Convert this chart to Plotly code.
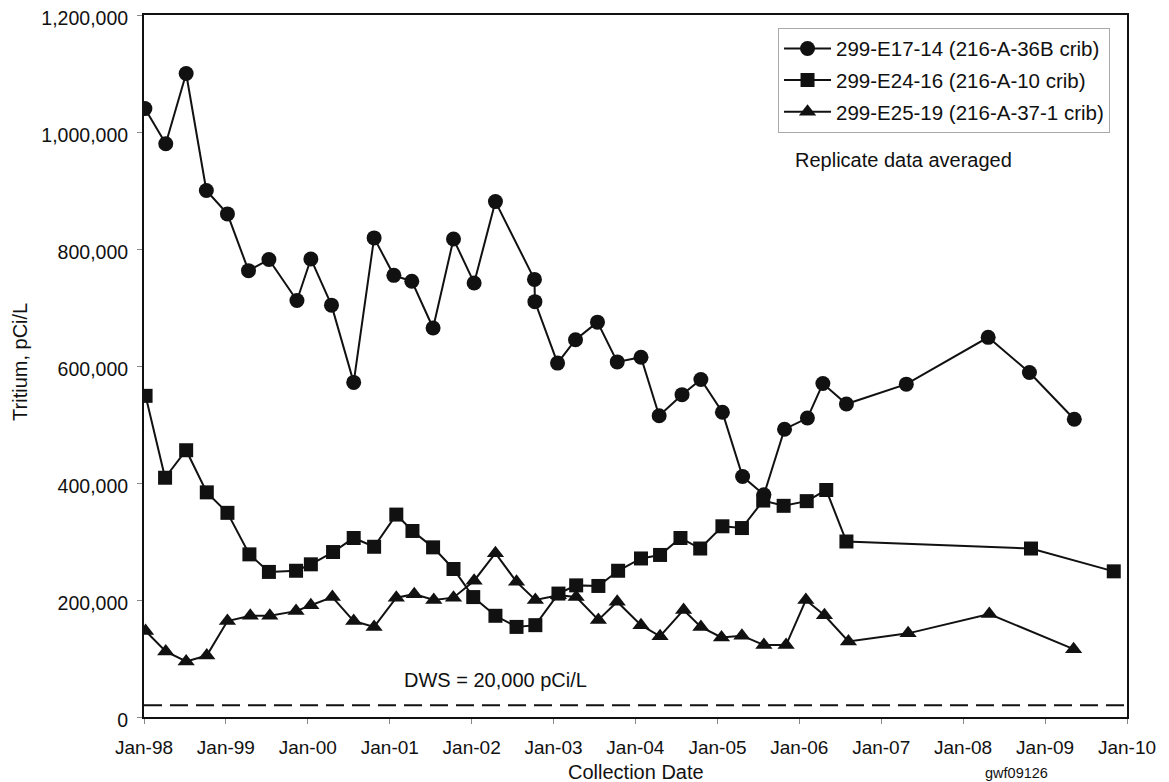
"""
Tritium in three 200-East wells, 1998-2009
==========================================

Three crib monitoring wells on one linear axis, with the drinking water
standard (DWS) drawn as a dashed reference line near the floor.
"""

import plotly.graph_objects as go

FONT = "Arial, Liberation Sans, sans-serif"
INK = "#111111"

# ── 299-E17-14 (216-A-36B crib)
E17_DATES = [
    "1998-01-05", "1998-04-08", "1998-07-08", "1998-10-06", "1999-01-08",
    "1999-04-12", "1999-07-12", "1999-11-14", "2000-01-15", "2000-04-16",
    "2000-07-24", "2000-10-23", "2001-01-19", "2001-04-09", "2001-07-13",
    "2001-10-12", "2002-01-12", "2002-04-17", "2002-10-08", "2002-10-10",
    "2003-01-19", "2003-04-09", "2003-07-16", "2003-10-12", "2004-01-26",
    "2004-04-16", "2004-07-27", "2004-10-19", "2005-01-23", "2005-04-23",
    "2005-07-27", "2005-10-27", "2006-02-06", "2006-04-16", "2006-07-30",
    "2007-04-23", "2008-04-22", "2008-10-23", "2009-05-11",
]
E17_TRITIUM = [
    1040000, 980000, 1100000, 900000, 860000,
    763000, 782000, 712000, 783000, 704000,
    572000, 819000, 755000, 745000, 665000,
    817000, 742000, 881000, 748000, 710000,
    605000, 645000, 675000, 607000, 615000,
    515000, 551000, 577000, 521000, 411000,
    380000, 492000, 511000, 570000, 535000,
    569000, 649000, 589000, 509000,
]

# ── 299-E24-16 (216-A-10 crib)
E24_DATES = [
    "1998-01-08", "1998-04-05", "1998-07-08", "1998-10-08", "1999-01-08",
    "1999-04-16", "1999-07-12", "1999-11-10", "2000-01-15", "2000-04-23",
    "2000-07-24", "2000-10-23", "2001-01-30", "2001-04-12", "2001-07-13",
    "2001-10-12", "2002-01-08", "2002-04-17", "2002-07-20", "2002-10-12",
    "2003-01-23", "2003-04-12", "2003-07-20", "2003-10-16", "2004-01-26",
    "2004-04-20", "2004-07-20", "2004-10-16", "2005-01-23", "2005-04-20",
    "2005-07-24", "2005-10-23", "2006-02-03", "2006-05-01", "2006-07-30",
    "2008-10-30", "2009-11-03",
]
E24_TRITIUM = [
    549000, 409000, 456000, 384000, 349000,
    278000, 248000, 250000, 261000, 282000,
    306000, 291000, 346000, 318000, 290000,
    253000, 205000, 173000, 154000, 157000,
    211000, 225000, 224000, 250000, 271000,
    277000, 306000, 288000, 326000, 323000,
    370000, 361000, 369000, 388000, 300000,
    288000, 249000,
]

# ── 299-E25-19 (216-A-37-1 crib)
E25_DATES = [
    "1998-01-08", "1998-04-08", "1998-07-08", "1998-10-08", "1999-01-08",
    "1999-04-20", "1999-07-16", "1999-11-10", "2000-01-15", "2000-04-20",
    "2000-07-24", "2000-10-23", "2001-01-30", "2001-04-20", "2001-07-16",
    "2001-10-12", "2002-01-12", "2002-04-17", "2002-07-20", "2002-10-12",
    "2003-01-23", "2003-04-12", "2003-07-20", "2003-10-12", "2004-01-26",
    "2004-04-20", "2004-08-03", "2004-10-19", "2005-01-19", "2005-04-20",
    "2005-07-27", "2005-11-03", "2006-01-30", "2006-04-23", "2006-08-08",
    "2007-05-01", "2008-04-27", "2009-05-08",
]
E25_TRITIUM = [
    147000, 112000, 95000, 105000, 164000,
    173000, 173000, 181000, 191000, 205000,
    164000, 154000, 204000, 210000, 200000,
    204000, 233000, 280000, 231000, 200000,
    208000, 205000, 166000, 197000, 157000,
    138000, 183000, 154000, 136000, 139000,
    123000, 123000, 200000, 174000, 129000,
    143000, 176000, 116000,
]

DWS_LIMIT = 20000  # pCi/L

SERIES = [
    ("299-E17-14 (216-A-36B crib)", E17_DATES, E17_TRITIUM, "circle", 15),
    ("299-E24-16 (216-A-10 crib)", E24_DATES, E24_TRITIUM, "square", 14),
    ("299-E25-19 (216-A-37-1 crib)", E25_DATES, E25_TRITIUM, "triangle-up", 15),
]

fig = go.Figure()

for i, (name, dates, vals, symbol, size) in enumerate(SERIES):
    fig.add_trace(
        go.Scatter(
            x=dates,
            y=vals,
            name=name,
            mode="lines+markers",
            line=dict(color=INK, width=2),
            marker=dict(symbol=symbol, size=size, color=INK),
            legendgroup=f"g{i}",
        )
    )

# Drinking water standard
fig.add_hline(y=DWS_LIMIT, line=dict(color=INK, width=2, dash="18px,8px"))

ann_font = dict(size=20, color=INK)
fig.add_annotation(
    xref="paper", yref="paper", x=0.358, y=0.053, yanchor="middle",
    text="DWS = 20,000 pCi/L", showarrow=False, font=ann_font,
)
fig.add_annotation(
    xref="paper", yref="paper", x=0.660, y=0.7935, xanchor="left", yanchor="middle",
    text="Replicate data averaged", showarrow=False, font=ann_font,
)
fig.add_annotation(
    xref="paper", yref="paper", x=0.5, y=0, yshift=-55, yanchor="middle",
    text="Collection Date", showarrow=False, font=ann_font,
)
fig.add_annotation(
    xref="paper", yref="paper", x=-0.126, y=0.506, xanchor="center", yanchor="middle",
    text="Tritium, pCi/L", textangle=-90, showarrow=False, font=ann_font,
)
fig.add_annotation(
    xref="paper", yref="paper", x=0.9217, y=0, yshift=-56, yanchor="middle",
    text="gwf09126", showarrow=False, font=dict(size=14.5, color=INK),
)

axis_common = dict(
    ticks="outside",
    ticklen=5,
    tickcolor="#888888",
    ticklabeloverflow="allow",
    automargin=False,
    showline=True,
    linecolor=INK,
    linewidth=2,
    mirror=True,
    showgrid=False,
    zeroline=False,
)
fig.update_xaxes(
    type="date",
    range=["1998-01-01", "2010-01-01"],
    tick0="1998-01-01",
    dtick="M12",
    tickformat="%b-%y",
    tickfont=dict(size=19, color=INK),
    ticklabelstandoff=7,
    **axis_common,
)
fig.update_yaxes(
    range=[0, 1200000],
    dtick=200000,
    tickformat=",",
    tickfont=dict(size=19.5, color=INK),
    ticklabelstandoff=5,
    ticklabelshift=3,  # nudge down so the top label clears the page edge
    **axis_common,
)

# The page body adds an 8 px offset, so margins are shifted to compensate.
fig.update_layout(
    width=1169,
    height=782,
    margin=dict(l=136, r=50, t=7, b=73),
    paper_bgcolor="white",
    plot_bgcolor="white",
    font=dict(family=FONT, size=19, color=INK),
    showlegend=True,
    legend=dict(
        x=0.645, y=0.982, xanchor="left", yanchor="top",
        bordercolor="#aaaaaa", borderwidth=1, bgcolor="white",
        font=dict(size=20.5, color=INK),
        tracegroupgap=2,
        itemwidth=47,
    ),
)

fig.write_html("out.html")
